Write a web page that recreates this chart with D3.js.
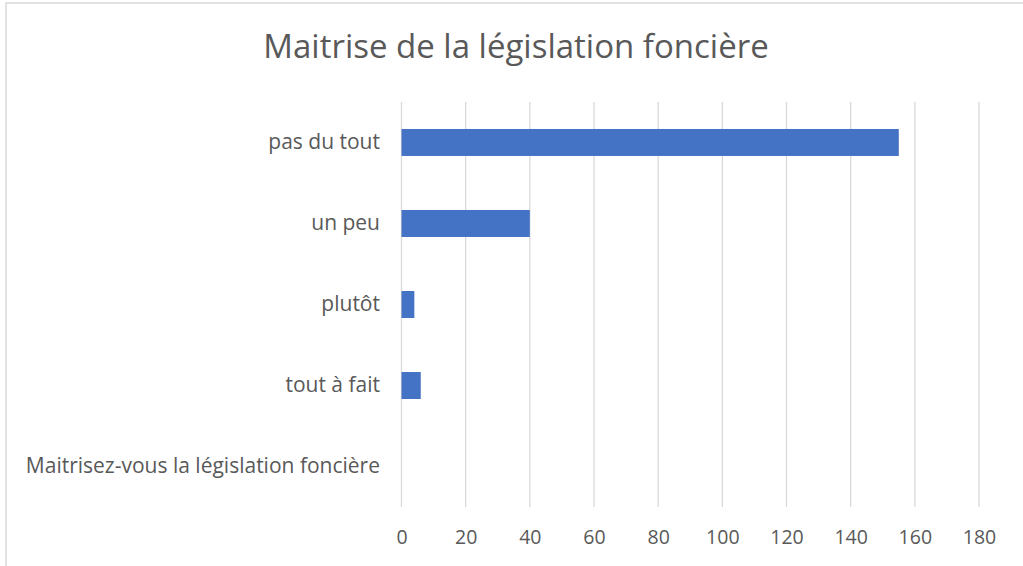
<!DOCTYPE html>
<html>
<head>
<meta charset="utf-8">
<script src="https://cdn.jsdelivr.net/npm/d3@7"></script>
<style>
  html, body { margin: 0; padding: 0; background: #fff; }
  svg { display: block; }
  text { font-family: "Open Sans", "Liberation Sans", Arial, sans-serif; fill: #595959; }
</style>
</head>
<body>
<script>
// Survey answers, top to bottom
const categories = ["pas du tout", "un peu", "plutôt", "tout à fait", "Maitrisez-vous la législation foncière"];
const counts = [155, 40, 4, 6, 0];
const xTicks = [0, 20, 40, 60, 80, 100, 120, 140, 160, 180];
const title = "Maitrise de la législation foncière";

const W = 1023, H = 566;
const plot = { left: 401.5, right: 979, top: 102, bottom: 507 };
const FONT = "'Open Sans', 'Liberation Sans', Arial, sans-serif";

const svg = d3.select("body").append("svg")
  .attr("width", W).attr("height", H);

// chart frame
svg.append("rect")
  .attr("x", 6).attr("y", 3)
  .attr("width", W + 10).attr("height", H + 10)
  .attr("fill", "#fff")
  .attr("stroke", "#d9d9d9").attr("stroke-width", 1.5);

const x = d3.scaleLinear().domain([0, 180]).range([plot.left, plot.right]);
const y = d3.scaleBand().domain(categories).range([plot.top, plot.bottom])
  .paddingInner(0.667).paddingOuter(0.333);

// vertical gridlines
svg.append("g").selectAll("line").data(xTicks).join("line")
  .attr("x1", d => x(d)).attr("x2", d => x(d))
  .attr("y1", plot.top).attr("y2", plot.bottom)
  .attr("stroke", "#d9d9d9").attr("stroke-width", 1.3);

// bars
svg.append("g").selectAll("rect").data(categories).join("rect")
  .attr("x", x(0))
  .attr("y", d => y(d))
  .attr("width", (d, i) => x(counts[i]) - x(0))
  .attr("height", y.bandwidth())
  .attr("fill", "#4472c4");

// x axis labels
const xAxis = d3.axisBottom(x).tickValues(xTicks).tickSize(0).tickPadding(0);
const gx = svg.append("g").attr("transform", `translate(0, ${plot.bottom})`).call(xAxis);
gx.select(".domain").remove();
gx.selectAll("text")
  .attr("y", 30).attr("dy", "0.35em")
  .style("font-size", "19.5px")
  .style("font-family", FONT)
  .attr("fill", "#595959");

// category labels
const yAxis = d3.axisLeft(y).tickSize(0).tickPadding(0);
const gy = svg.append("g").attr("transform", `translate(380, 0)`).call(yAxis);
gy.select(".domain").remove();
gy.selectAll("text")
  .style("font-size", "21px")
  .style("font-family", FONT)
  .attr("fill", "#595959");

// title
svg.append("text")
  .attr("x", 516).attr("y", 46).attr("dy", "0.35em")
  .attr("text-anchor", "middle")
  .style("font-size", "33px")
  .text(title);
</script>
</body>
</html>
